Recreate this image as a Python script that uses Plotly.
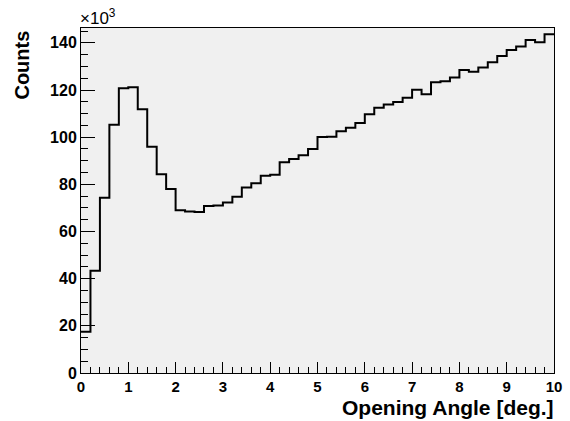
import plotly.graph_objects as go

# Histogram: 50 bins of width 0.2 deg between 0 and 10 deg; counts in units of 10^3
bin_edges = [round(0.2 * i, 1) for i in range(51)]
counts_k = [
    17.5, 43.4, 74.3, 105.3, 120.7, 121.2, 111.8, 95.9, 84.3, 78.0,
    69.0, 68.5, 68.3, 70.8, 71.0, 72.3, 74.7, 78.7, 80.5, 83.6,
    84.1, 89.4, 90.8, 92.3, 95.0, 100.1, 100.2, 102.5, 104.0, 106.0,
    109.7, 112.5, 113.9, 114.9, 116.7, 120.1, 118.2, 123.3, 123.7, 125.3,
    128.5, 127.8, 129.5, 131.8, 134.4, 137.0, 138.5, 141.2, 140.3, 143.7,
]
y_ticks = [0, 20, 40, 60, 80, 100, 120, 140]
x_ticks = list(range(0, 11))

FONT = "Liberation Sans, Arial, Helvetica, sans-serif"

fig = go.Figure()
fig.add_trace(go.Scatter(
    x=bin_edges,
    y=counts_k + [counts_k[-1]],
    mode="lines",
    line=dict(shape="hv", color="black", width=2),
    hoverinfo="skip",
    showlegend=False,
))

fig.update_layout(
    width=570, height=421,
    margin=dict(l=81, r=16, t=28, b=48),
    paper_bgcolor="white",
    plot_bgcolor="#f0f0f0",
    font=dict(family=FONT, color="black"),
    showlegend=False,
)

fig.update_xaxes(
    range=[0, 10],
    tickvals=x_ticks,
    ticktext=[f"<b>{v}</b>" for v in x_ticks],
    tickfont=dict(size=15, family=FONT),
    ticks="inside", ticklen=11, tickwidth=1, tickcolor="black",
    minor=dict(dtick=0.2, ticks="inside", ticklen=6, tickwidth=1, tickcolor="black"),
    showgrid=False, zeroline=False,
    showline=True, linecolor="black", linewidth=1, mirror=True,
    automargin=False,
)
fig.update_yaxes(
    range=[0, 146.3],
    tickvals=y_ticks,
    ticktext=[f"<b>{v}</b>" for v in y_ticks],
    tickfont=dict(size=16, family=FONT),
    ticks="inside", ticklen=14, tickwidth=1, tickcolor="black",
    minor=dict(dtick=5, ticks="inside", ticklen=7, tickwidth=1, tickcolor="black"),
    showgrid=False, zeroline=False,
    showline=True, linecolor="black", linewidth=1, mirror=True,
    automargin=False,
)

fig.add_annotation(
    text="<b>Counts</b>", textangle=-90,
    xref="paper", yref="paper", x=-0.124, y=0.998,
    xanchor="center", yanchor="top", showarrow=False,
    font=dict(size=20, family=FONT, color="black"),
)
fig.add_annotation(
    text="<b>Opening Angle [deg.]</b>",
    xref="paper", yref="paper", x=1.004, y=-0.1,
    xanchor="right", yanchor="middle", showarrow=False,
    font=dict(size=21, family=FONT, color="black"),
)
fig.add_annotation(
    text="×10<sup>3</sup>",
    xref="paper", yref="paper", x=-0.006, y=0.995,
    xanchor="left", yanchor="bottom", showarrow=False,
    font=dict(size=17, family=FONT, color="black"),
)

fig.write_html(
    "out.html",
    config={"displayModeBar": False},
    post_script="document.body.style.margin='0';document.body.style.overflow='hidden';",
)
